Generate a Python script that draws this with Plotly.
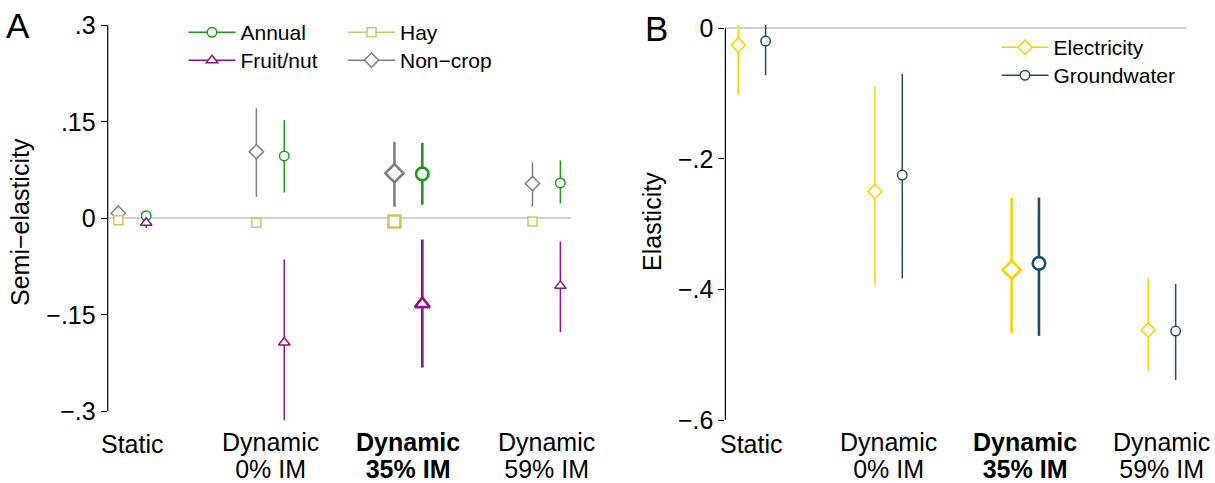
import plotly.graph_objects as go

W, H = 1215, 483
FONT = "Liberation Sans"

# ---------------- data ----------------
cat_line1 = ["Static", "Dynamic", "Dynamic", "Dynamic"]
cat_line2 = ["", "0% IM", "35% IM", "59% IM"]
highlight_idx = 2  # preferred specification (bold)

# Panel A: semi-elasticities by land use
annual = [0.004, 0.097, 0.069, 0.055]
annual_lo = [-0.003, 0.040, 0.021, 0.023]
annual_hi = [0.011, 0.153, 0.117, 0.090]

fruit = [-0.007, -0.193, -0.133, -0.105]
fruit_lo = [-0.015, -0.314, -0.232, -0.177]
fruit_hi = [0.001, -0.064, -0.033, -0.036]

hay = [-0.003, -0.007, -0.005, -0.005]
hay_lo = [-0.006, -0.010, -0.008, -0.008]
hay_hi = [0.000, -0.004, -0.002, -0.002]

noncrop = [0.008, 0.1035, 0.070, 0.054]
noncrop_lo = [0.002, 0.033, 0.018, 0.018]
noncrop_hi = [0.014, 0.171, 0.119, 0.087]

# Panel B: elasticities
elec = [-0.0256, -0.250, -0.370, -0.462]
elec_lo = [-0.102, -0.393, -0.467, -0.524]
elec_hi = [0.051, -0.088, -0.260, -0.383]

ground = [-0.0195, -0.2247, -0.360, -0.4636]
ground_lo = [-0.0715, -0.383, -0.471, -0.5386]
ground_hi = [0.033, -0.070, -0.259, -0.3916]

a_tickvals = [-0.3, -0.15, 0, 0.15, 0.3]
a_ticktext = ["\u2212.3", "\u2212.15", "0", ".15", ".3"]
b_tickvals = [-0.6, -0.4, -0.2, 0]
b_ticktext = ["\u2212.6", "\u2212.4", "\u2212.2", "0"]

# ---------------- style ----------------
C_ANNUAL = "#1a9a1a"
C_FRUIT = "#8b138b"
C_HAY = "#d9bf66"
C_NONCROP = "#7f7f7f"
C_ELEC = "#ffd000"
C_GROUND = "#1f4a74"


def px_x(p):
    return p / W


def px_y(p):
    return 1 - p / H


fig = go.Figure()


def add_series(xaxis, yaxis, vals, lo, hi, offset, color, symbol, size):
    for hl in (False, True):
        idx = [i for i in range(len(vals)) if (i == highlight_idx) == hl]
        xs = [i + 1 + offset for i in idx]
        ys = [vals[i] for i in idx]
        up = [hi[i] - vals[i] for i in idx]
        dn = [vals[i] - lo[i] for i in idx]
        fig.add_trace(go.Scatter(
            x=xs, y=ys, xaxis=xaxis, yaxis=yaxis, mode="markers",
            showlegend=False, cliponaxis=True, hoverinfo="skip",
            marker=dict(symbol=symbol, size=size + (3 if hl else 0), color="white",
                        line=dict(color=color, width=2.6 if hl else 1.5)),
            error_y=dict(type="data", symmetric=False, array=up, arrayminus=dn,
                         color=color, thickness=2.6 if hl else 1.5, width=0),
        ))


OFF_A = 0.101
OFF_B = 0.1

add_series("x", "y", noncrop, noncrop_lo, noncrop_hi, -OFF_A, C_NONCROP, "diamond", 11)
add_series("x", "y", hay, hay_lo, hay_hi, -OFF_A, C_HAY, "square", 9)
add_series("x", "y", annual, annual_lo, annual_hi, OFF_A, C_ANNUAL, "circle", 9.5)
add_series("x", "y", fruit, fruit_lo, fruit_hi, OFF_A, C_FRUIT, "triangle-up", 10)

add_series("x2", "y2", elec, elec_lo, elec_hi, -OFF_B, C_ELEC, "diamond", 11)
add_series("x2", "y2", ground, ground_lo, ground_hi, OFF_B, C_GROUND, "circle", 9.5)

LEG_TXT = 21


# legend entries
def legend_entry(name, color, symbol, size, legend, xaxis, yaxis):
    fig.add_trace(go.Scatter(
        x=[None], y=[None], xaxis=xaxis, yaxis=yaxis, mode="lines+markers",
        name=f'<span style="font-size:{LEG_TXT}px">{name}</span>',
        legend=legend, showlegend=True,
        line=dict(color=color, width=1.5),
        marker=dict(symbol=symbol, size=size, color="white", line=dict(color=color, width=1.5)),
    ))


legend_entry("Annual", C_ANNUAL, "circle", 9.5, "legend", "x", "y")
legend_entry("Fruit/nut", C_FRUIT, "triangle-up", 10, "legend", "x", "y")
legend_entry("Hay", C_HAY, "square", 9, "legend2", "x", "y")
legend_entry("Non\u2212crop", C_NONCROP, "diamond", 11, "legend2", "x", "y")
legend_entry("Electricity", C_ELEC, "diamond", 11, "legend3", "x2", "y2")
legend_entry("Groundwater", C_GROUND, "circle", 9.5, "legend3", "x2", "y2")

PLOT_TOP, PLOT_BOT = 25, 425
A_L, A_R = 107.7, 571
B_L, B_R = 725.4, 1187

xa_common = dict(showline=False, showgrid=False, zeroline=False, showticklabels=False,
                 ticks="", fixedrange=True)
ya_common = dict(showline=False, showgrid=False, zeroline=True, zerolinecolor="#d2d2d2",
                 zerolinewidth=1.5, ticks="outside", ticklen=6, tickwidth=1.2,
                 tickcolor="black", automargin=False,
                 tickfont=dict(family=FONT, size=25, color="black"))

legend_common = dict(bgcolor="rgba(0,0,0,0)", borderwidth=0, xanchor="left", yanchor="top",
                     xref="container", yref="container",
                     orientation="v", font=dict(family=FONT, size=19.2, color="black"),
                     itemwidth=47, tracegroupgap=0)

fig.update_layout(
    width=W, height=H, margin=dict(l=0, r=0, t=0, b=0, pad=0, autoexpand=False),
    paper_bgcolor="white", plot_bgcolor="white",
    font=dict(family=FONT, color="black"),
    xaxis=dict(domain=[px_x(A_L), px_x(A_R)], range=[0.822, 4.178], anchor="y", **xa_common),
    yaxis=dict(domain=[px_y(PLOT_BOT), px_y(PLOT_TOP)], range=[-0.3213, 0.3005], anchor="x",
               tickvals=a_tickvals, ticktext=a_ticktext, **ya_common),
    xaxis2=dict(domain=[px_x(B_L), px_x(B_R)], range=[0.806, 4.183], anchor="y2", **xa_common),
    yaxis2=dict(domain=[px_y(PLOT_BOT), px_y(PLOT_TOP)], range=[-0.6075, 0.0051], anchor="x2",
                tickvals=b_tickvals, ticktext=b_ticktext, **ya_common),
    legend=dict(x=px_x(183.5), y=px_y(13.3), **legend_common),
    legend2=dict(x=px_x(343), y=px_y(13.3), **legend_common),
    legend3=dict(x=px_x(996.5), y=px_y(28.3), **legend_common),
    showlegend=True,
)

# axis lines spanning only the tick range
fig.add_shape(type="line", xref="x domain", yref="y", x0=0, x1=0,
              y0=min(a_tickvals), y1=max(a_tickvals), line=dict(color="black", width=1.2))
fig.add_shape(type="line", xref="x2 domain", yref="y2", x0=0, x1=0,
              y0=min(b_tickvals), y1=max(b_tickvals), line=dict(color="black", width=1.2))

# category labels (two tightly spaced lines each)
CAT_TXT = 25
for xref in ("x", "x2"):
    for i in range(len(cat_line1)):
        lines = [t for t in (cat_line1[i], cat_line2[i]) if t]
        if i == highlight_idx:
            lines = [f"<b>{t}</b>" for t in lines]
        lines = [f'<span style="font-size:{CAT_TXT}px">{t}</span>' for t in lines]
        single = len(lines) == 1
        fig.add_annotation(x=i + 1, y=px_y(444 if single else 455.8), xref=xref, yref="paper",
                           text="<br>".join(lines), showarrow=False, borderpad=0,
                           xanchor="center", yanchor="middle", align="center",
                           font=dict(family=FONT, size=20.5, color="black"))

# axis titles
fig.add_annotation(x=px_x(20), y=px_y(222), xref="paper", yref="paper", text="Semi\u2212elasticity",
                   textangle=-90, showarrow=False, xanchor="center", yanchor="middle",
                   font=dict(family=FONT, size=25, color="black"))
fig.add_annotation(x=px_x(652), y=px_y(222), xref="paper", yref="paper", text="Elasticity",
                   textangle=-90, showarrow=False, xanchor="center", yanchor="middle",
                   font=dict(family=FONT, size=25, color="black"))

# panel labels
fig.add_annotation(x=px_x(4), y=px_y(26), xref="paper", yref="paper", text="A",
                   showarrow=False, xanchor="left", yanchor="middle",
                   font=dict(family=FONT, size=35, color="black"))
fig.add_annotation(x=px_x(643), y=px_y(29), xref="paper", yref="paper", text="B",
                   showarrow=False, xanchor="left", yanchor="middle",
                   font=dict(family=FONT, size=35, color="black"))

fig.write_html("out.html")
